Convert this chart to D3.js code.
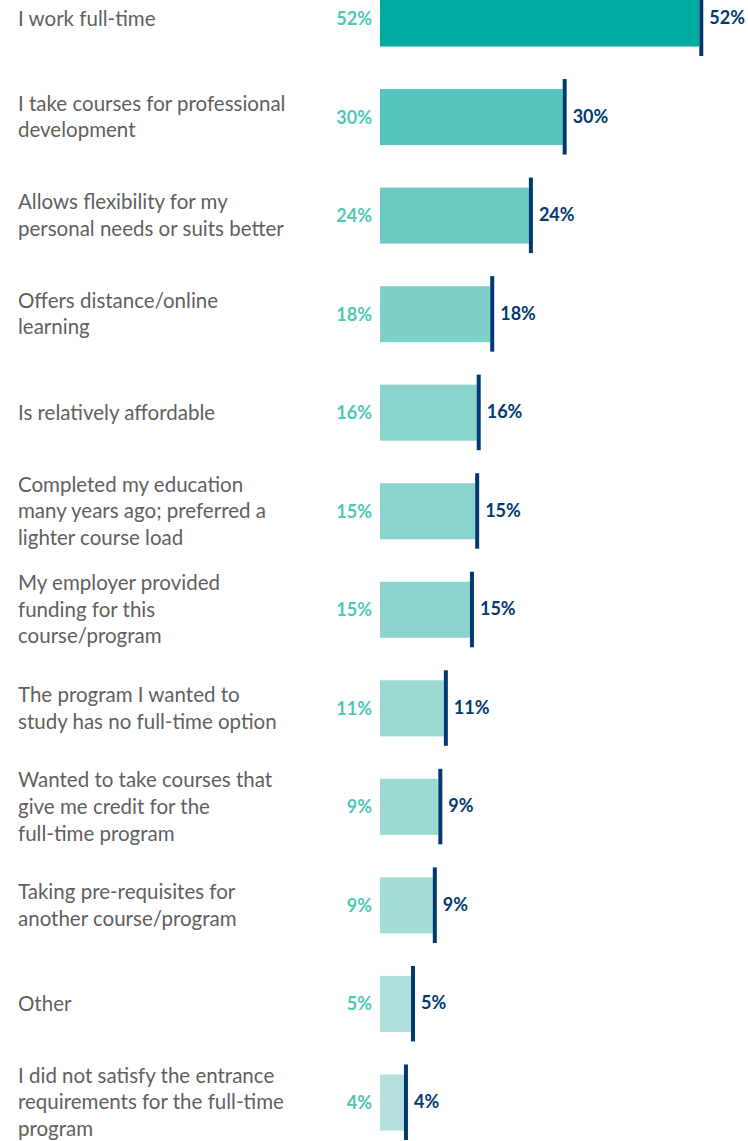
<!DOCTYPE html>
<html>
<head>
<meta charset="utf-8">
<script src="https://cdn.jsdelivr.net/npm/d3@7"></script>
<style>
  html, body { margin: 0; padding: 0; background: #fff; }
  svg { display: block; }
</style>
</head>
<body>
<div id="chart"></div>
<script>
let w = 748,
    h = 1141;

// reasons, one entry per bar (lines split as in the original)
let categories = [
  ["I work full-time"],
  ["I take courses for professional", "development"],
  ["Allows flexibility for my", "personal needs or suits better"],
  ["Offers distance/online", "learning"],
  ["Is relatively affordable"],
  ["Completed my education", "many years ago; preferred a", "lighter course load"],
  ["My employer provided", "funding for this", "course/program"],
  ["The program I wanted to", "study has no full-time option"],
  ["Wanted to take courses that", "give me credit for the", "full-time program"],
  ["Taking pre-requisites for", "another course/program"],
  ["Other"],
  ["I did not satisfy the entrance", "requirements for the full-time", "program"]
];

// bar lengths (percent)
let values = [52.0, 29.75, 24.25, 17.95, 15.75, 15.5, 14.65, 10.4, 9.5, 8.6, 5.05, 3.9];

// printed labels
let valueLabels = ["52%", "30%", "24%", "18%", "16%", "15%", "15%", "11%", "9%", "9%", "5%", "4%"];

// bar fills, dark to light
let barColors = ["#00ada0", "#55c4bd", "#69c9c3", "#80d0ca", "#89d3cd", "#8ad3cd",
                 "#8bd3cc", "#9bd8d3", "#9dd9d4", "#a3dbd6", "#b0e0dc", "#b3e0dc"];

let tealText = "#4cc8b3",
    navy = "#003a70",
    grey = "#5f5f5f";

let svg = d3.select("#chart")
            .append("svg")
            .attr("width", w)
            .attr("height", h);

let x = d3.scaleLinear()
          .domain([0, 100])
          .range([380, 994]);

let y = d3.scaleBand()
          .domain(d3.range(values.length))
          .range([-30.75, 1151.75])
          .paddingInner(0.4315)
          .paddingOuter(0.21575);

let rows = svg.selectAll(".row")
              .data(values)
              .enter()
              .append("g")
              .attr("class", "row");

// bars
rows.append("rect")
    .attr("x", x(0))
    .attr("y", (d, i) => y(i))
    .attr("width", d => x(d) - x(0))
    .attr("height", y.bandwidth())
    .attr("fill", (d, i) => barColors[i]);

// dark marker at the end of each bar
rows.append("rect")
    .attr("x", d => x(d))
    .attr("y", (d, i) => y(i) - 10)
    .attr("width", 4)
    .attr("height", y.bandwidth() + 19.5)
    .attr("fill", navy);

// value label left of the bars
rows.append("text")
    .attr("x", 372)
    .attr("y", (d, i) => y(i) + y.bandwidth() / 2)
    .attr("dy", "0.36em")
    .attr("text-anchor", "end")
    .style("font-family", "Lato, 'Open Sans', sans-serif")
    .style("font-weight", "bold")
    .style("font-size", "18px")
    .style("fill", tealText)
    .text((d, i) => valueLabels[i]);

// value label right of the marker
rows.append("text")
    .attr("x", d => x(d) + 10)
    .attr("y", (d, i) => y(i) + y.bandwidth() / 2 - 1)
    .attr("dy", "0.36em")
    .style("font-family", "Lato, 'Open Sans', sans-serif")
    .style("font-weight", "bold")
    .style("font-size", "18px")
    .style("fill", navy)
    .text((d, i) => valueLabels[i]);

// category text, centred on its bar
let lineH = 26.7;
rows.append("text")
    .style("font-family", "Lato, 'Open Sans', sans-serif")
    .style("font-size", "20.5px")
    .style("fill", grey)
    .each(function(d, i) {
      let lines = categories[i];
      let mid = y(i) + y.bandwidth() / 2;
      d3.select(this)
        .selectAll("tspan")
        .data(lines)
        .enter()
        .append("tspan")
        .attr("x", 18)
        .attr("y", (t, j) => mid + (j - (lines.length - 1) / 2) * lineH + 7)
        .text(t => t);
    });
</script>
</body>
</html>
